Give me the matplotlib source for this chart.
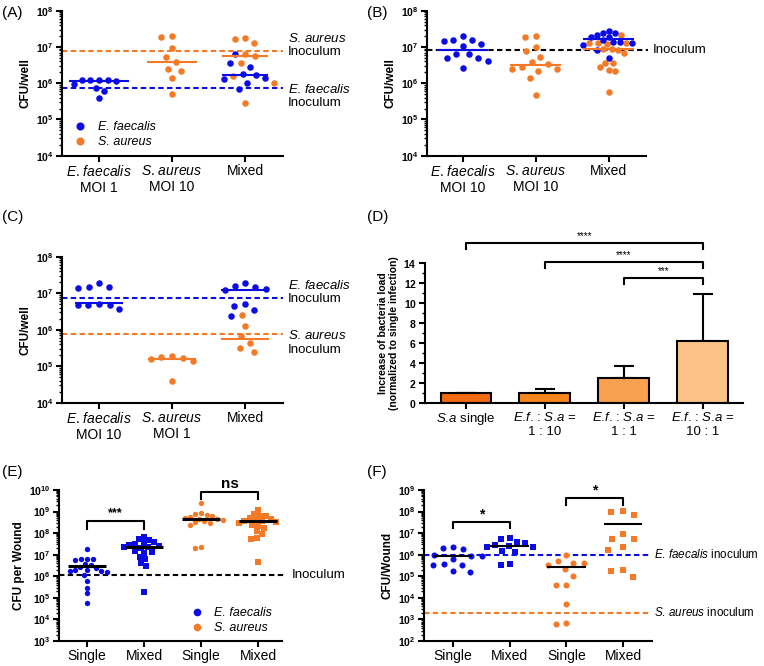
import numpy as np
import matplotlib
matplotlib.use("Agg")
import matplotlib.pyplot as plt
from matplotlib.ticker import LogLocator, FixedLocator, FuncFormatter, NullFormatter, MultipleLocator
from matplotlib.lines import Line2D

plt.rcParams.update({
    "font.family": "Liberation Sans",
    "mathtext.fontset": "custom",
    "mathtext.rm": "Liberation Sans",
    "mathtext.it": "Liberation Sans:italic",
    "mathtext.bf": "Liberation Sans:bold",
    "axes.linewidth": 1.5,
    "xtick.major.width": 1.5, "ytick.major.width": 1.5,
    "ytick.minor.width": 1.0,
    "xtick.major.size": 4, "ytick.major.size": 4, "ytick.minor.size": 2.5,
    "xtick.major.pad": 2, "ytick.major.pad": 2,
})

BLUE = "#0B0BE6"
ORANGE = "#F47A28"

EF = "$\\mathit{E}$. $\\mathit{faecalis}$"
SA = "$\\mathit{S}$. $\\mathit{aureus}$"
EFs = "$\\mathit{E}$.$\\mathit{f}$."
SAs = "$\\mathit{S}$.$\\mathit{a}$"

# ---------------- data ----------------
cats_ABC_A = [EF + "\nMOI 1", SA + "\nMOI 10", "Mixed"]
cats_ABC_B = [EF + "\nMOI 10", SA + "\nMOI 10", "Mixed"]
cats_ABC_C = [EF + "\nMOI 10", SA + "\nMOI 1", "Mixed"]

A_ef_mono = [1.25e6, 1.2e6, 1.15e6, 1.2e6, 1.25e6, 7.5e5, 9.3e5, 6.2e5, 3.9e5]
A_sa_mono = [1.86e7, 1.95e7, 9.6e6, 5.4e6, 3.9e6, 2.2e6, 2.5e6, 1.35e6, 4.9e5]
A_mix_ef = [6.3e6, 3.7e6, 2.8e6, 1.8e6, 1.65e6, 1.4e6, 1.3e6, 1.0e6, 6.8e5]
A_mix_sa = [1.65e7, 1.8e7, 1.3e7, 5.6e6, 6.4e6, 3.6e6, 1.6e6, 1.0e6, 2.9e5]
A_centres = [1.18e6, 3.9e6, 1.65e6, 5.6e6]   # ef mono, sa mono, mix ef, mix sa
A_inoc = [7.5e5, 7.5e6]                      # ef, sa

B_ef_mono = [2.0e7, 1.18e7, 6.4e6, 1.48e7, 1.03e7, 4.9e6, 2.7e6, 1.58e7, 4.9e6, 1.58e7, 6.3e6, 4.1e6]
B_sa_mono = [1.85e7, 1.96e7, 9.8e6, 7.7e6, 5.4e6, 3.8e6, 3.3e6, 2.8e6, 2.4e6, 2.4e6, 2.2e6, 1.37e6, 4.8e5]
B_mix_ef = [2.8e7, 2.5e7, 2.4e7, 2.1e7, 1.9e7, 1.85e7, 1.6e7, 1.4e7, 1.4e7, 1.25e7, 1.1e7, 8e6, 4.9e6]
B_mix_sa = [2.2e7, 1.3e7, 1.3e7, 1.3e7, 1.2e7, 9e6, 8.8e6, 8.5e6, 7e6, 3.6e6, 3.6e6, 2.8e6, 2.3e6, 2.2e6, 5.9e5]
B_centres = [8.3e6, 3.2e6, 1.65e7, 8.6e6]
B_inoc = 8.0e6

C_ef_mono = [1.87e7, 1.5e7, 1.42e7, 1.5e7, 4.8e6, 5.0e6, 4.8e6, 4.8e6, 3.6e6]
C_sa_mono = [1.78e5, 1.67e5, 1.35e5, 1.55e5, 1.87e5, 4.0e4]
C_mix_ef = [1.58e7, 1.87e7, 1.23e7, 1.32e7, 1.5e7, 5.0e6, 4.5e6, 3.4e6, 2.4e6]
C_mix_sa = [2.6e6, 1.26e6, 6.7e5, 4.4e5, 3.1e5, 2.4e5]
C_centres = [5.3e6, 1.6e5, 1.25e7, 5.6e5]
C_inoc = [7.5e6, 7.5e5]

D_labels = [SAs + " single", EFs + " : " + SAs + " =\n1 : 10",
            EFs + " : " + SAs + " =\n1 : 1", EFs + " : " + SAs + " =\n10 : 1"]
D_values = [1.0, 1.0, 2.55, 6.25]
D_err = [0.0, 0.4, 1.15, 4.65]
D_colors = ["#F26A12", "#F7861C", "#FAA14F", "#FDC287"]
D_sig = [(0, 3, 16.0, 15.4, "****"), (1, 3, 14.07, 13.5, "****"), (2, 3, 12.5, 11.9, "***")]

EF_cats = ["Single", "Mixed", "Single", "Mixed"]
E_ef_single = [1.8e7, 6.5e6, 6.3e6, 6.0e6, 5.8e6, 3.6e6, 3.2e6, 2.8e6, 2.4e6, 2.0e6, 1.9e6, 1.8e6,
               1.7e6, 1.6e6, 1.2e6, 6.3e5, 3.0e5, 1.6e5, 5.6e4]
E_ef_mixed = [6.9e7, 5.4e7, 4.8e7, 4.0e7, 3.4e7, 3.2e7, 2.8e7, 2.6e7, 2.3e7, 2.2e7, 2.0e7, 1.5e7,
              1.4e7, 1.2e7, 8e6, 6.3e6, 4e6, 3e6, 1.8e5]
E_sa_single = [2.4e9, 8.5e8, 7.5e8, 7.0e8, 6.5e8, 5.5e8, 5.0e8, 4.7e8, 4.5e8, 4.0e8, 3.5e8, 3.2e8,
               2.8e8, 2.4e8, 2.3e7, 2.0e7]
E_sa_mixed = [1.2e9, 7.4e8, 6.5e8, 6.0e8, 5.0e8, 4.5e8, 4.0e8, 3.8e8, 3.6e8, 3.3e8, 2.9e8, 2.5e8,
              2.2e8, 1.7e8, 1.2e8, 9e7, 6e7, 5.5e7, 4.5e6]
E_centres = [3.1e6, 2.2e7, 4.7e8, 3.8e8]
E_inoc = 1.1e6
E_sig = [(0, 1, 3.8e8, 1.5e8, "***"), (2, 3, 8.1e9, 4.0e9, "ns")]

F_ef_single = [2.3e6, 2.0e6, 1.8e6, 1.0e6, 9.0e5, 8.8e5, 6.3e5, 3.8e5, 3.3e5, 3.3e5, 1.7e5, 1.6e5]
F_ef_mixed = [6.2e6, 5.4e6, 3.7e6, 3.6e6, 2.8e6, 2.5e6, 2.3e6, 2.3e6, 1.5e6, 1.3e6, 3.8e5, 3.3e5]
F_sa_single = [9.8e5, 5.1e5, 4.3e5, 4.0e5, 3.3e5, 2.2e5, 1.07e5, 4.0e4, 3.8e4, 5.4e3, 6.8e2, 5.9e2]
F_sa_mixed = [1.07e8, 9.3e7, 7.0e7, 9.1e6, 5.4e6, 5.2e6, 2.3e6, 1.6e6, 1.9e5, 1.8e5, 9.3e4]
F_centres = [8.9e5, 2.5e6, 2.7e5, 2.6e7]
F_inoc = [1.0e6, 2.0e3]
F_sig = [(0, 1, 3.4e7, 1.66e7, "*"), (2, 3, 4.1e8, 2.0e8, "*")]

# ---------------- helpers ----------------
W, H = 764, 666
fig = plt.figure(figsize=(W / 100, H / 100), dpi=100)


def px_axes(l, t, r, b):
    return fig.add_axes([l / W, 1 - b / H, (r - l) / W, (b - t) / H])


def style_log(ax, lo, hi):
    ax.set_yscale("log")
    ax.set_ylim(10.0 ** lo, 10.0 ** hi)
    ax.yaxis.set_major_locator(FixedLocator([10.0 ** e for e in range(lo, hi + 1)]))
    ax.yaxis.set_major_formatter(FuncFormatter(lambda v, p: r"$\mathbf{10^{%d}}$" % round(np.log10(v))))
    ax.yaxis.set_minor_locator(LogLocator(base=10, subs=np.arange(2, 10), numticks=100))
    ax.yaxis.set_minor_formatter(NullFormatter())
    for s in ["top", "right"]:
        ax.spines[s].set_visible(False)
    ax.tick_params(axis="y", labelsize=7.5)
    ax.tick_params(axis="x", labelsize=10)


def swarm_x(ax, xc, vals, D):
    vals = np.asarray(vals, float)
    pts = ax.transData.transform(np.column_stack([np.full(len(vals), xc), vals]))
    ypix = pts[:, 1]
    ppu = ax.transData.transform((xc + 1, vals[0]))[0] - ax.transData.transform((xc, vals[0]))[0]
    order = np.argsort(-ypix)
    placed = []
    xs = np.zeros(len(vals))
    for i in order:
        y = ypix[i]
        cands = [0.0]
        for (px, py) in placed:
            dy = abs(py - y)
            if dy < D:
                dx = np.sqrt(D * D - dy * dy)
                cands += [px + dx, px - dx]
        cands = sorted(cands, key=lambda c: (abs(c), c))
        for c in cands:
            if all((c - px) ** 2 + (y - py) ** 2 >= D * D - 1e-6 for px, py in placed):
                xs[i] = c
                break
        placed.append((xs[i], y))
    return xc + xs / ppu


def centre_line(ax, xc, val, color, half, lw):
    ax.plot([xc - half, xc + half], [val, val], color=color, lw=lw, zorder=4, solid_capstyle="butt")


def bracket(ax, x0, x1, y, yl, text, fs, weight, off):
    ax.plot([x0, x0, x1, x1], [yl, y, y, yl], color="k", lw=1.5, clip_on=False, zorder=5)
    ax.annotate(text, xy=((x0 + x1) / 2, y), xytext=(0, off), textcoords="offset points",
                ha="center", va="bottom", fontsize=fs, fontweight=weight, annotation_clip=False)


def side_text(ax, y, text, dy, dx=3.5, fs=9.5):
    ax.annotate(text, xy=(1, y), xycoords=("axes fraction", "data"), xytext=(dx, dy),
                textcoords="offset points", ha="left", va="center", fontsize=fs,
                annotation_clip=False, linespacing=1.15)


DASH = (2.6, 1.6)
S_ABC = 22

# ---------------- panel A ----------------
axA = px_axes(62, 10.7, 283, 155.7)
style_log(axA, 4, 8)
axA.set_xlim(-0.507, 2.52)
axA.set_xticks([0, 1, 2])
axA.set_xticklabels(cats_ABC_A)
axA.set_ylabel("CFU/well", fontsize=8.5, fontweight="bold", labelpad=3)
axA.axhline(A_inoc[0], color=BLUE, lw=1.5, dashes=DASH, zorder=1)
axA.axhline(A_inoc[1], color=ORANGE, lw=1.5, dashes=DASH, zorder=1)
axA.scatter(swarm_x(axA, 0, A_ef_mono, 8.6), A_ef_mono, s=S_ABC, color=BLUE, lw=0, zorder=3)
axA.scatter(swarm_x(axA, 1, A_sa_mono, 10.7), A_sa_mono, s=S_ABC, color=ORANGE, lw=0, zorder=3)
mix = A_mix_ef + A_mix_sa
mx = swarm_x(axA, 2, mix, 10)
axA.scatter(mx[len(A_mix_ef):], A_mix_sa, s=S_ABC, color=ORANGE, lw=0, zorder=3)
axA.scatter(mx[:len(A_mix_ef)], A_mix_ef, s=S_ABC, color=BLUE, lw=0, zorder=3)
centre_line(axA, 0, A_centres[0], BLUE, 0.41, 1.5)
centre_line(axA, 1, A_centres[1], ORANGE, 0.34, 1.5)
centre_line(axA, 2, A_centres[2], BLUE, 0.32, 1.5)
centre_line(axA, 2, A_centres[3], ORANGE, 0.32, 1.5)
side_text(axA, A_inoc[1], SA + "\nInoculum", 4.5)
side_text(axA, A_inoc[0], EF + "\nInoculum", -6)
hA = [Line2D([], [], marker="o", ls="", color=BLUE, ms=4.8),
      Line2D([], [], marker="o", ls="", color=ORANGE, ms=4.8)]
axA.legend(hA, ["E. faecalis", "S. aureus"], loc="center left", bbox_to_anchor=(0.054, 0.144),
           frameon=False, handlelength=1.0, handletextpad=0.9, labelspacing=0.25, borderpad=0,
           borderaxespad=0, prop={"style": "italic", "size": 9})

# ---------------- panel B ----------------
axB = px_axes(427, 10.7, 646, 155.7)
style_log(axB, 4, 8)
axB.set_xlim(-0.49, 2.51)
axB.set_xticks([0, 1, 2])
axB.set_xticklabels(cats_ABC_B)
axB.set_ylabel("CFU/well", fontsize=8.5, fontweight="bold", labelpad=3)
axB.axhline(B_inoc, color="k", lw=1.5, dashes=DASH, zorder=1, xmax=1.01, clip_on=False)
axB.scatter(swarm_x(axB, 0, B_ef_mono, 10), B_ef_mono, s=S_ABC, color=BLUE, lw=0, zorder=3)
axB.scatter(swarm_x(axB, 1, B_sa_mono, 10.5), B_sa_mono, s=S_ABC, color=ORANGE, lw=0, zorder=3)
mix = B_mix_ef + B_mix_sa
mx = swarm_x(axB, 2, mix, 6.3)
axB.scatter(mx[len(B_mix_ef):], B_mix_sa, s=S_ABC, color=ORANGE, lw=0, zorder=3)
axB.scatter(mx[:len(B_mix_ef)], B_mix_ef, s=S_ABC, color=BLUE, lw=0, zorder=3)
centre_line(axB, 0, B_centres[0], BLUE, 0.35, 1.5)
centre_line(axB, 1, B_centres[1], ORANGE, 0.35, 1.5)
centre_line(axB, 2, B_centres[2], BLUE, 0.35, 1.5)
centre_line(axB, 2, B_centres[3], ORANGE, 0.35, 1.5)
side_text(axB, B_inoc, "Inoculum", 0, dx=5)

# ---------------- panel C ----------------
axC = px_axes(62, 256.7, 283, 402.7)
style_log(axC, 4, 8)
axC.set_xlim(-0.507, 2.52)
axC.set_xticks([0, 1, 2])
axC.set_xticklabels(cats_ABC_C)
axC.set_ylabel("CFU/well", fontsize=8.5, fontweight="bold", labelpad=3)
axC.axhline(C_inoc[0], color=BLUE, lw=1.5, dashes=DASH, zorder=1)
axC.axhline(C_inoc[1], color=ORANGE, lw=1.5, dashes=DASH, zorder=1)
axC.scatter(swarm_x(axC, 0, C_ef_mono, 10.7), C_ef_mono, s=S_ABC, color=BLUE, lw=0, zorder=3)
axC.scatter(swarm_x(axC, 1, C_sa_mono, 10.7), C_sa_mono, s=S_ABC, color=ORANGE, lw=0, zorder=3)
mix = C_mix_ef + C_mix_sa
mx = swarm_x(axC, 2, mix, 10.7)
axC.scatter(mx[len(C_mix_ef):], C_mix_sa, s=S_ABC, color=ORANGE, lw=0, zorder=3)
axC.scatter(mx[:len(C_mix_ef)], C_mix_ef, s=S_ABC, color=BLUE, lw=0, zorder=3)
centre_line(axC, 0, C_centres[0], BLUE, 0.33, 1.5)
centre_line(axC, 1, C_centres[1], ORANGE, 0.33, 1.5)
centre_line(axC, 2, C_centres[2], BLUE, 0.33, 1.5)
centre_line(axC, 2, C_centres[3], ORANGE, 0.33, 1.5)
side_text(axC, C_inoc[0], EF + "\nInoculum", 4)
side_text(axC, C_inoc[1], SA + "\nInoculum", -6)

# ---------------- panel D ----------------
axD = px_axes(425, 263, 743, 403)
xD = np.arange(len(D_values))
axD.bar(xD, D_values, width=0.645, color=D_colors, edgecolor="k", linewidth=1.5, zorder=2)
axD.errorbar(xD, D_values, yerr=[np.zeros(len(D_err)), D_err], fmt="none", ecolor="k",
             elinewidth=1.5, capsize=7, capthick=1.5, zorder=1)
axD.set_xlim(-0.52, 3.51)
axD.set_ylim(0, 14)
axD.yaxis.set_minor_locator(MultipleLocator(1))
axD.tick_params(axis="y", which="minor", length=2.5, width=1.0)
axD.set_yticks(np.arange(0, 15, 2))
axD.set_yticklabels([r"$\mathbf{%d}$" % v for v in range(0, 15, 2)])
axD.tick_params(axis="y", labelsize=7.5)
axD.set_xticks(xD)
axD.set_xticklabels(D_labels, fontsize=9.5)
for s in ["top", "right"]:
    axD.spines[s].set_visible(False)
axD.set_ylabel("Increase of bacteria load\n(normalized to single infection)", fontsize=7.5,
               fontweight="bold", labelpad=3, linespacing=1.1)
for x0, x1, y, yl, t in D_sig:
    bracket(axD, x0, x1, y, yl, t, 7, "normal", 1.5)

# ---------------- panel E ----------------
axE = px_axes(59, 490, 282, 641)
style_log(axE, 3, 10)
axE.set_xlim(-0.49, 3.42)
axE.set_xticks(range(4))
axE.set_xticklabels(EF_cats)
axE.set_ylabel("CFU per Wound", fontsize=8.5, fontweight="bold", labelpad=3)
axE.axhline(E_inoc, color="k", lw=1.5, dashes=DASH, zorder=1, xmax=1.01, clip_on=False)
axE.scatter(swarm_x(axE, 0, E_ef_single, 5.8), E_ef_single, s=15, color=BLUE, lw=0, zorder=3)
axE.scatter(swarm_x(axE, 1, E_ef_mixed, 5.9), E_ef_mixed, s=17, marker="s", color=BLUE, lw=0, zorder=3)
axE.scatter(swarm_x(axE, 2, E_sa_single, 5.8), E_sa_single, s=15, color=ORANGE, lw=0, zorder=3)
axE.scatter(swarm_x(axE, 3, E_sa_mixed, 5.9), E_sa_mixed, s=17, marker="s", color=ORANGE, lw=0, zorder=3)
for i, c in enumerate(E_centres):
    centre_line(axE, i, c, "k", 0.34, 2.2)
for x0, x1, y, yl, t in E_sig:
    fs = 11 if t == "ns" else 9
    bracket(axE, x0, x1, y, yl, t, fs, "bold", 1.0)
side_text(axE, E_inoc, "Inoculum", 0, dx=7)
hE = [Line2D([], [], marker="o", ls="", color=BLUE, ms=4.5),
      Line2D([], [], marker="o", ls="", color=ORANGE, ms=4.5)]
axE.legend(hE, ["E. faecalis", "S. aureus"], loc="center left", bbox_to_anchor=(0.592, 0.134),
           frameon=False, handlelength=1.0, handletextpad=0.8, labelspacing=0.25, borderpad=0,
           borderaxespad=0, prop={"style": "italic", "size": 9})

# ---------------- panel F ----------------
axF = px_axes(424, 490, 652, 641)
style_log(axF, 2, 9)
axF.set_xlim(-0.51, 3.51)
axF.set_xticks(range(4))
axF.set_xticklabels(EF_cats)
axF.set_ylabel("CFU/Wound", fontsize=8.5, fontweight="bold", labelpad=3)
axF.axhline(F_inoc[0], color=BLUE, lw=1.5, dashes=DASH, zorder=1, xmax=0.985)
axF.axhline(F_inoc[1], color=ORANGE, lw=1.5, dashes=DASH, zorder=1, xmax=0.985)
axF.scatter(swarm_x(axF, 0, F_ef_single, 10.5), F_ef_single, s=19, color=BLUE, lw=0, zorder=3)
axF.scatter(swarm_x(axF, 1, F_ef_mixed, 8.5), F_ef_mixed, s=21, marker="s", color=BLUE, lw=0, zorder=3)
axF.scatter(swarm_x(axF, 2, F_sa_single, 10.5), F_sa_single, s=19, color=ORANGE, lw=0, zorder=3)
axF.scatter(swarm_x(axF, 3, F_sa_mixed, 12), F_sa_mixed, s=21, marker="s", color=ORANGE, lw=0, zorder=3)
for i, c in enumerate(F_centres):
    centre_line(axF, i, c, "k", 0.34, 1.5)
for x0, x1, y, yl, t in F_sig:
    bracket(axF, x0, x1, y, yl, t, 10, "bold", 0.5)
side_text(axF, F_inoc[0], EF + " inoculum", 0, dx=1.2, fs=8.4)
side_text(axF, F_inoc[1], SA + " inoculum", 0, dx=1.2, fs=8.4)

# ---------------- panel letters ----------------
for lab, x, y in [("(A)", 2, 13), ("(B)", 367, 13), ("(C)", 2, 217), ("(D)", 367, 217),
                  ("(E)", 2, 472), ("(F)", 367, 472)]:
    fig.text(x / W, 1 - y / H, lab, fontsize=11, ha="left", va="center")

fig.savefig("out.png", dpi=100)
